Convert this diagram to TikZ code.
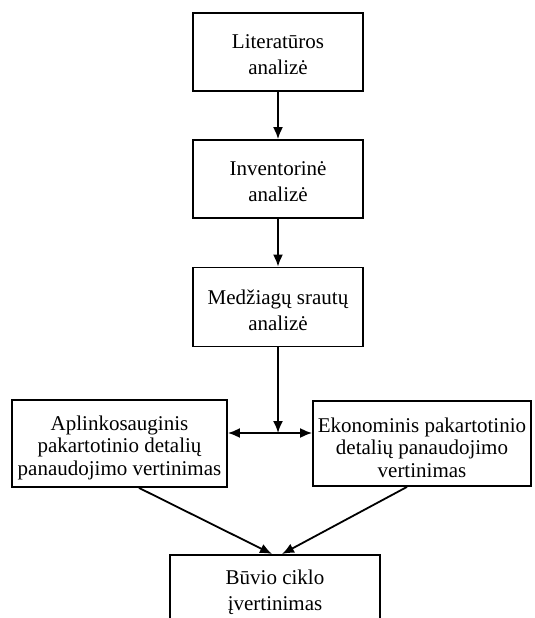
\documentclass[tikz,border=0pt]{standalone}
\usepackage{fontspec}
\setmainfont{Liberation Serif}
\usetikzlibrary{arrows.meta}
\begin{document}
\begin{tikzpicture}[x=1pt,y=-1pt,
  boxnode/.style={draw=black,line width=1.8pt,fill=white,inner sep=0pt},
  lbl/.style={align=center,inner sep=0pt,font=\fontsize{21}{26}\selectfont},
  lowlbl/.style={lbl,font=\fontsize{21}{22.5}\selectfont},
  arr/.style={line width=1.8pt,-{Latex[length=12pt,width=10pt]}}]
\fill[white] (0,0) rectangle (535,618);
\useasboundingbox (0,0) rectangle (535,618);
\clip (0,0) rectangle (535,618);
\node[boxnode,minimum width=170,minimum height=78,
  label={[lbl,yshift=-3]center:Literatūros\\analizė}] (b1) at (278,52) {};
\node[boxnode,minimum width=170,minimum height=78,
  label={[lbl,yshift=-3]center:Inventorinė\\analizė}] (b2) at (278,179) {};
\node[boxnode,minimum width=170,minimum height=79,
  label={[lbl,yshift=-3]center:Medžiagų srautų\\analizė}] (b3) at (278,307) {};
\node[boxnode,minimum width=215,minimum height=87,
  label={[lowlbl,yshift=-4]center:Aplinkosauginis\\pakartotinio detalių\\panaudojimo vertinimas}] (left) at (119.5,443.5) {};
\node[boxnode,minimum width=218,minimum height=85,
  label={[lowlbl,yshift=-4]center:Ekonominis pakartotinio\\detalių panaudojimo\\vertinimas}] (right) at (422,443.5) {};
\node[boxnode,anchor=north,minimum width=210,minimum height=76,
  label={[lbl,yshift=1]center:Būvio ciklo\\įvertinimas}] (bot) at (275,554) {};
\coordinate (j) at (278,433);
\draw[arr] (b1) -- (b2);
\draw[arr] (b2) -- (b3);
\draw[arr] (b3) -- (j);
\draw[arr] (j) -- (left.east |- j);
\draw[arr] (j) -- (right.west |- j);
\draw[arr] ([xshift=19.5]left.south) -- ([xshift=-3]bot.north);
\draw[arr] ([xshift=-15]right.south) -- ([xshift=7]bot.north);
\end{tikzpicture}
\end{document}
